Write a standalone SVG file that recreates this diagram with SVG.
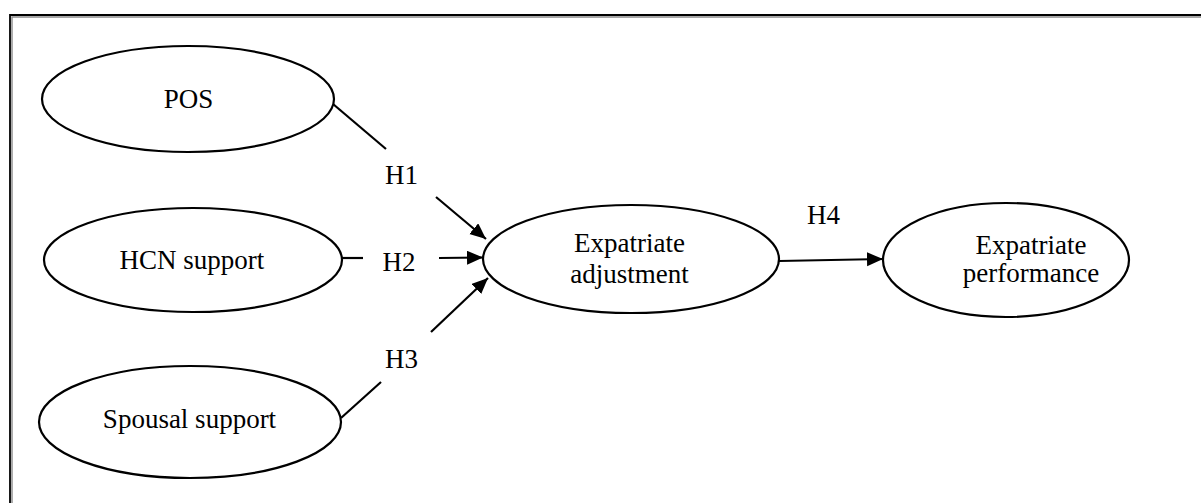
<svg xmlns="http://www.w3.org/2000/svg" width="1201" height="503" viewBox="0 0 1201 503">
<style>
.node ellipse{fill:#fff;stroke:#000;stroke-width:2.2}
.t{font-family:'Liberation Serif','Times New Roman',serif;font-size:27px;fill:#000;text-anchor:middle}
.conn line{stroke:#000;stroke-width:2.2}
</style>
<defs>
<marker id="ah" markerUnits="userSpaceOnUse" markerWidth="18" markerHeight="16" refX="16" refY="7" orient="auto">
<path d="M0,0 L16,7 L0,14 Z" fill="#000"/>
</marker>
</defs>
<rect width="1201" height="503" fill="#fff"/>
<g id="frame">
<path d="M10,503 V15 H1201" fill="none" stroke="#000" stroke-width="1.8"/>
<path d="M12,503 V17 H1201" fill="none" stroke="#8a8a8a" stroke-width="1.4"/>
</g>
<g class="conn" id="connectors">
<line x1="333" y1="104" x2="386" y2="149"/>
<line x1="436" y1="197" x2="486" y2="239" marker-end="url(#ah)"/>
<line x1="342" y1="258" x2="363" y2="258"/>
<line x1="439" y1="258" x2="483" y2="257.5" marker-end="url(#ah)"/>
<line x1="341" y1="418" x2="381" y2="382"/>
<line x1="431" y1="332" x2="488" y2="278" marker-end="url(#ah)"/>
<line x1="779" y1="261" x2="883" y2="259" marker-end="url(#ah)"/>
<text class="t" x="401.5" y="184">H1</text>
<text class="t" x="399" y="270.5">H2</text>
<text class="t" x="401.5" y="368">H3</text>
<text class="t" x="823.5" y="224">H4</text>
</g>
<g class="node" id="pos">
<ellipse cx="188" cy="99" rx="146" ry="53"/>
<text class="t" x="188.5" y="108">POS</text>
</g>
<g class="node" id="hcn">
<ellipse cx="193" cy="260" rx="149" ry="52"/>
<text class="t" x="192" y="269">HCN support</text>
</g>
<g class="node" id="spousal">
<ellipse cx="190" cy="422" rx="151" ry="56"/>
<text class="t" x="189.5" y="428">Spousal support</text>
</g>
<g class="node" id="adjustment">
<ellipse cx="631" cy="259" rx="148" ry="54"/>
<text class="t" x="629.5" y="252">Expatriate</text>
<text class="t" x="629.5" y="283">adjustment</text>
</g>
<g class="node" id="performance">
<ellipse cx="1006" cy="260" rx="123" ry="57"/>
<text class="t" x="1031" y="254">Expatriate</text>
<text class="t" x="1031" y="282">performance</text>
</g>
</svg>
